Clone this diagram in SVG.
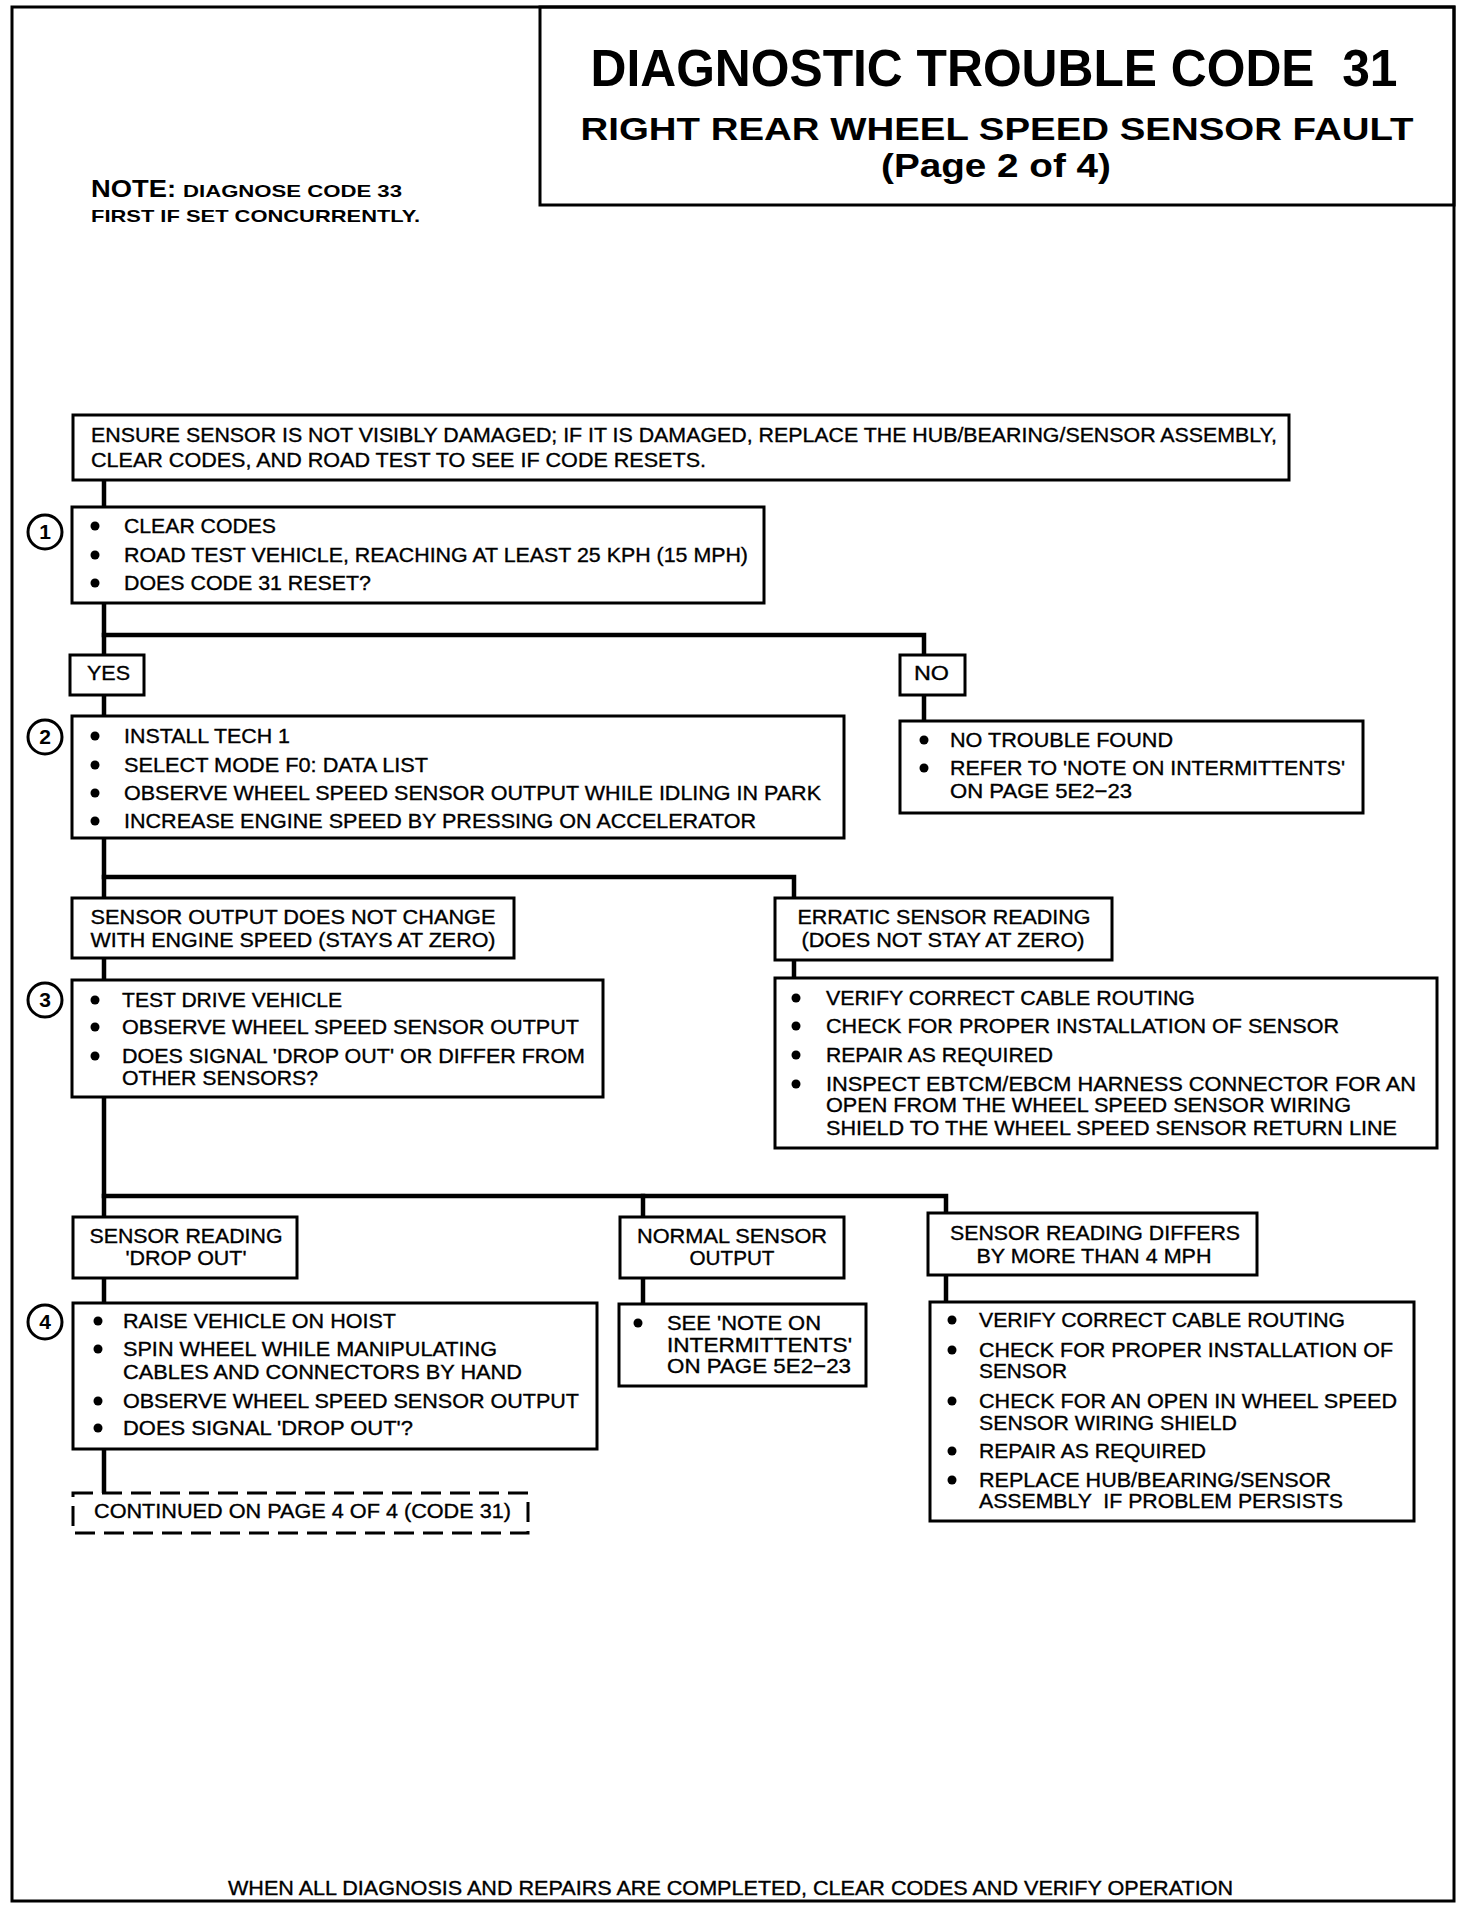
<svg xmlns="http://www.w3.org/2000/svg" width="1472" height="1912" viewBox="0 0 1472 1912">
<style>
  .bg { fill: #ffffff; }
  .frame { fill: none; stroke: #000; stroke-width: 3; }
  .box { fill: #fff; stroke: #000; stroke-width: 3; }
  .dash { fill: #fff; stroke: #000; stroke-width: 3; stroke-dasharray: 20 9; }
  .conn { fill: none; stroke: #000; stroke-width: 4.5; stroke-linecap: square; }
  .t { font-family: "Liberation Sans", Arial, sans-serif; font-size: 21px; fill: #000; stroke: #000; stroke-width: 0.35; }
  .c { text-anchor: middle; }
  .b { font-weight: bold; stroke-width: 0; }
  .dot { fill: #000; }
  .num { fill: #fff; stroke: #000; stroke-width: 3; }
</style>
<rect class="bg" x="0" y="0" width="1472" height="1912"/>
<rect class="frame" x="12" y="7" width="1442" height="1894"/>

<g id="n-title">
  <rect class="frame" x="540" y="7" width="914" height="198"/>
  <text class="t b c" x="994" y="86" xml:space="preserve" textLength="807" lengthAdjust="spacingAndGlyphs" style="font-size:51px">DIAGNOSTIC TROUBLE CODE  31</text>
  <text class="t b c" x="997" y="140" style="font-size:32px" textLength="833" lengthAdjust="spacingAndGlyphs">RIGHT REAR WHEEL SPEED SENSOR FAULT</text>
  <text class="t b c" x="996" y="177" style="font-size:33px" textLength="230" lengthAdjust="spacingAndGlyphs">(Page 2 of 4)</text>
</g>

<g id="n-note">
  <text class="t b" x="91" y="197" style="font-size:23px" textLength="85" lengthAdjust="spacingAndGlyphs">NOTE:</text>
  <text class="t b" x="183" y="197" style="font-size:17px" textLength="219" lengthAdjust="spacingAndGlyphs">DIAGNOSE CODE 33</text>
  <text class="t b" x="91" y="222" style="font-size:17px" textLength="329" lengthAdjust="spacingAndGlyphs">FIRST IF SET CONCURRENTLY.</text>
</g>

<g id="connectors">
  <path class="conn" d="M104,480 V1493"/>
  <path class="conn" d="M104,635 H924 V721"/>
  <path class="conn" d="M104,877 H794 V978"/>
  <path class="conn" d="M104,1196 H946 V1302"/>
  <path class="conn" d="M643,1196 V1304"/>
</g>

<g id="n-ensure">
  <rect class="box" x="73" y="415" width="1216" height="65"/>
  <text class="t" x="91" y="442" textLength="1186" lengthAdjust="spacingAndGlyphs">ENSURE SENSOR IS NOT VISIBLY DAMAGED; IF IT IS DAMAGED, REPLACE THE HUB/BEARING/SENSOR ASSEMBLY,</text>
  <text class="t" x="91" y="467" textLength="615" lengthAdjust="spacingAndGlyphs">CLEAR CODES, AND ROAD TEST TO SEE IF CODE RESETS.</text>
</g>

<g id="n-step1">
  <circle class="num" cx="45" cy="532" r="17"/>
  <text class="t b c" x="45" y="539">1</text>
  <rect class="box" x="72" y="507" width="692" height="96"/>
  <circle class="dot" cx="95" cy="526" r="4.5"/>
  <circle class="dot" cx="95" cy="555" r="4.5"/>
  <circle class="dot" cx="95" cy="583" r="4.5"/>
  <text class="t" x="124" y="533" textLength="152" lengthAdjust="spacingAndGlyphs">CLEAR CODES</text>
  <text class="t" x="124" y="562" textLength="624" lengthAdjust="spacingAndGlyphs">ROAD TEST VEHICLE, REACHING AT LEAST 25 KPH (15 MPH)</text>
  <text class="t" x="124" y="590" textLength="247" lengthAdjust="spacingAndGlyphs">DOES CODE 31 RESET?</text>
</g>

<g id="n-yes">
  <rect class="box" x="70" y="655" width="74" height="40"/>
  <text class="t" x="87" y="680" textLength="43" lengthAdjust="spacingAndGlyphs">YES</text>
</g>

<g id="n-no">
  <rect class="box" x="900" y="655" width="65" height="40"/>
  <text class="t" x="914" y="680" textLength="35" lengthAdjust="spacingAndGlyphs">NO</text>
</g>

<g id="n-step2">
  <circle class="num" cx="45" cy="737" r="17"/>
  <text class="t b c" x="45" y="744">2</text>
  <rect class="box" x="72" y="716" width="772" height="122"/>
  <circle class="dot" cx="95" cy="736" r="4.5"/>
  <circle class="dot" cx="95" cy="765" r="4.5"/>
  <circle class="dot" cx="95" cy="793" r="4.5"/>
  <circle class="dot" cx="95" cy="821" r="4.5"/>
  <text class="t" x="124" y="743" textLength="166" lengthAdjust="spacingAndGlyphs">INSTALL TECH 1</text>
  <text class="t" x="124" y="772" textLength="304" lengthAdjust="spacingAndGlyphs">SELECT MODE F0: DATA LIST</text>
  <text class="t" x="124" y="800" textLength="697" lengthAdjust="spacingAndGlyphs">OBSERVE WHEEL SPEED SENSOR OUTPUT WHILE IDLING IN PARK</text>
  <text class="t" x="124" y="828" textLength="632" lengthAdjust="spacingAndGlyphs">INCREASE ENGINE SPEED BY PRESSING ON ACCELERATOR</text>
</g>

<g id="n-ntf">
  <rect class="box" x="900" y="721" width="463" height="92"/>
  <circle class="dot" cx="924" cy="740" r="4.5"/>
  <circle class="dot" cx="924" cy="768" r="4.5"/>
  <text class="t" x="950" y="747" textLength="223" lengthAdjust="spacingAndGlyphs">NO TROUBLE FOUND</text>
  <text class="t" x="950" y="775" textLength="395" lengthAdjust="spacingAndGlyphs">REFER TO 'NOTE ON INTERMITTENTS'</text>
  <text class="t" x="950" y="798" textLength="182" lengthAdjust="spacingAndGlyphs">ON PAGE 5E2−23</text>
</g>

<g id="n-nochange">
  <rect class="box" x="72" y="898" width="442" height="60"/>
  <text class="t c" x="293" y="924" textLength="405" lengthAdjust="spacingAndGlyphs">SENSOR OUTPUT DOES NOT CHANGE</text>
  <text class="t c" x="293" y="947" textLength="405" lengthAdjust="spacingAndGlyphs">WITH ENGINE SPEED (STAYS AT ZERO)</text>
</g>

<g id="n-erratic">
  <rect class="box" x="775" y="898" width="337" height="62"/>
  <text class="t c" x="944" y="924" textLength="293" lengthAdjust="spacingAndGlyphs">ERRATIC SENSOR READING</text>
  <text class="t c" x="943" y="947" textLength="283" lengthAdjust="spacingAndGlyphs">(DOES NOT STAY AT ZERO)</text>
</g>

<g id="n-step3">
  <circle class="num" cx="45" cy="1000" r="17"/>
  <text class="t b c" x="45" y="1007">3</text>
  <rect class="box" x="72" y="980" width="531" height="117"/>
  <circle class="dot" cx="95" cy="1000" r="4.5"/>
  <circle class="dot" cx="95" cy="1027" r="4.5"/>
  <circle class="dot" cx="95" cy="1056" r="4.5"/>
  <text class="t" x="122" y="1007" textLength="220" lengthAdjust="spacingAndGlyphs">TEST DRIVE VEHICLE</text>
  <text class="t" x="122" y="1034" textLength="457" lengthAdjust="spacingAndGlyphs">OBSERVE WHEEL SPEED SENSOR OUTPUT</text>
  <text class="t" x="122" y="1063" textLength="463" lengthAdjust="spacingAndGlyphs">DOES SIGNAL 'DROP OUT' OR DIFFER FROM</text>
  <text class="t" x="122" y="1085" textLength="196" lengthAdjust="spacingAndGlyphs">OTHER SENSORS?</text>
</g>

<g id="n-erratic-actions">
  <rect class="box" x="775" y="978" width="662" height="170"/>
  <circle class="dot" cx="796" cy="998" r="4.5"/>
  <circle class="dot" cx="796" cy="1026" r="4.5"/>
  <circle class="dot" cx="796" cy="1055" r="4.5"/>
  <circle class="dot" cx="796" cy="1084" r="4.5"/>
  <text class="t" x="826" y="1005" textLength="369" lengthAdjust="spacingAndGlyphs">VERIFY CORRECT CABLE ROUTING</text>
  <text class="t" x="826" y="1033" textLength="513" lengthAdjust="spacingAndGlyphs">CHECK FOR PROPER INSTALLATION OF SENSOR</text>
  <text class="t" x="826" y="1062" textLength="227" lengthAdjust="spacingAndGlyphs">REPAIR AS REQUIRED</text>
  <text class="t" x="826" y="1091" textLength="590" lengthAdjust="spacingAndGlyphs">INSPECT EBTCM/EBCM HARNESS CONNECTOR FOR AN</text>
  <text class="t" x="826" y="1112" textLength="525" lengthAdjust="spacingAndGlyphs">OPEN FROM THE WHEEL SPEED SENSOR WIRING</text>
  <text class="t" x="826" y="1135" textLength="571" lengthAdjust="spacingAndGlyphs">SHIELD TO THE WHEEL SPEED SENSOR RETURN LINE</text>
</g>

<g id="n-dropout">
  <rect class="box" x="73" y="1217" width="224" height="61"/>
  <text class="t c" x="186" y="1243" textLength="193" lengthAdjust="spacingAndGlyphs">SENSOR READING</text>
  <text class="t c" x="186" y="1265" textLength="121" lengthAdjust="spacingAndGlyphs">'DROP OUT'</text>
</g>

<g id="n-normal">
  <rect class="box" x="620" y="1217" width="224" height="61"/>
  <text class="t c" x="732" y="1243" textLength="190" lengthAdjust="spacingAndGlyphs">NORMAL SENSOR</text>
  <text class="t c" x="732" y="1265" textLength="85" lengthAdjust="spacingAndGlyphs">OUTPUT</text>
</g>

<g id="n-differs">
  <rect class="box" x="928" y="1213" width="329" height="62"/>
  <text class="t c" x="1095" y="1240" textLength="290" lengthAdjust="spacingAndGlyphs">SENSOR READING DIFFERS</text>
  <text class="t c" x="1094" y="1263" textLength="235" lengthAdjust="spacingAndGlyphs">BY MORE THAN 4 MPH</text>
</g>

<g id="n-step4">
  <circle class="num" cx="45" cy="1322" r="17"/>
  <text class="t b c" x="45" y="1329">4</text>
  <rect class="box" x="73" y="1303" width="524" height="146"/>
  <circle class="dot" cx="98" cy="1321" r="4.5"/>
  <circle class="dot" cx="98" cy="1349" r="4.5"/>
  <circle class="dot" cx="98" cy="1401" r="4.5"/>
  <circle class="dot" cx="98" cy="1428" r="4.5"/>
  <text class="t" x="123" y="1328" textLength="273" lengthAdjust="spacingAndGlyphs">RAISE VEHICLE ON HOIST</text>
  <text class="t" x="123" y="1356" textLength="374" lengthAdjust="spacingAndGlyphs">SPIN WHEEL WHILE MANIPULATING</text>
  <text class="t" x="123" y="1379" textLength="399" lengthAdjust="spacingAndGlyphs">CABLES AND CONNECTORS BY HAND</text>
  <text class="t" x="123" y="1408" textLength="456" lengthAdjust="spacingAndGlyphs">OBSERVE WHEEL SPEED SENSOR OUTPUT</text>
  <text class="t" x="123" y="1435" textLength="290" lengthAdjust="spacingAndGlyphs">DOES SIGNAL 'DROP OUT'?</text>
</g>

<g id="n-normal-actions">
  <rect class="box" x="619" y="1304" width="247" height="82"/>
  <circle class="dot" cx="638" cy="1323" r="4.5"/>
  <text class="t" x="667" y="1330" textLength="154" lengthAdjust="spacingAndGlyphs">SEE 'NOTE ON</text>
  <text class="t" x="667" y="1352" textLength="185" lengthAdjust="spacingAndGlyphs">INTERMITTENTS'</text>
  <text class="t" x="667" y="1373" textLength="184" lengthAdjust="spacingAndGlyphs">ON PAGE 5E2−23</text>
</g>

<g id="n-differs-actions">
  <rect class="box" x="930" y="1302" width="484" height="219"/>
  <circle class="dot" cx="952" cy="1320" r="4.5"/>
  <circle class="dot" cx="952" cy="1350" r="4.5"/>
  <circle class="dot" cx="952" cy="1401" r="4.5"/>
  <circle class="dot" cx="952" cy="1451" r="4.5"/>
  <circle class="dot" cx="952" cy="1480" r="4.5"/>
  <text class="t" x="979" y="1327" textLength="366" lengthAdjust="spacingAndGlyphs">VERIFY CORRECT CABLE ROUTING</text>
  <text class="t" x="979" y="1357" textLength="414" lengthAdjust="spacingAndGlyphs">CHECK FOR PROPER INSTALLATION OF</text>
  <text class="t" x="979" y="1378" textLength="88" lengthAdjust="spacingAndGlyphs">SENSOR</text>
  <text class="t" x="979" y="1408" textLength="418" lengthAdjust="spacingAndGlyphs">CHECK FOR AN OPEN IN WHEEL SPEED</text>
  <text class="t" x="979" y="1430" textLength="258" lengthAdjust="spacingAndGlyphs">SENSOR WIRING SHIELD</text>
  <text class="t" x="979" y="1458" textLength="227" lengthAdjust="spacingAndGlyphs">REPAIR AS REQUIRED</text>
  <text class="t" x="979" y="1487" textLength="352" lengthAdjust="spacingAndGlyphs">REPLACE HUB/BEARING/SENSOR</text>
  <text class="t" x="979" y="1508" xml:space="preserve" textLength="364" lengthAdjust="spacingAndGlyphs">ASSEMBLY  IF PROBLEM PERSISTS</text>
</g>

<g id="n-continued">
  <rect class="dash" x="73" y="1493" width="455" height="40"/>
  <text class="t" x="94" y="1518" textLength="417" lengthAdjust="spacingAndGlyphs">CONTINUED ON PAGE 4 OF 4 (CODE 31)</text>
</g>

<g id="n-footer">
  <text class="t" x="228" y="1895" textLength="1005" lengthAdjust="spacingAndGlyphs">WHEN ALL DIAGNOSIS AND REPAIRS ARE COMPLETED, CLEAR CODES AND VERIFY OPERATION</text>
</g>
</svg>
